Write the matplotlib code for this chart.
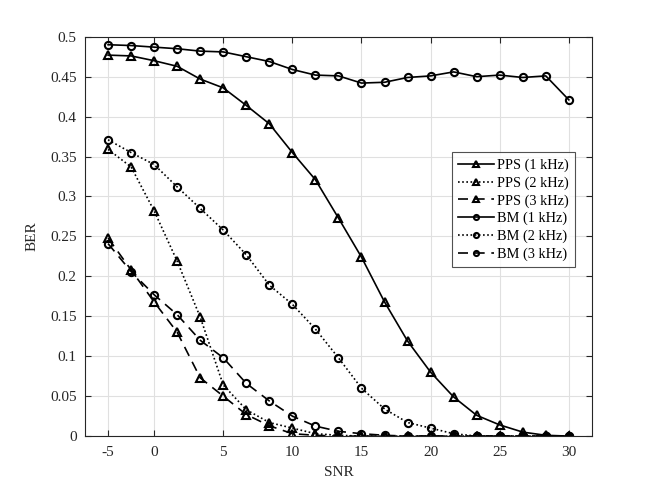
import numpy as np
import matplotlib
matplotlib.use("Agg")
import matplotlib.pyplot as plt

plt.rcParams['font.family'] = ['Liberation Serif', 'DejaVu Serif']

# SNR sample positions (21 points); tick labels as in the reference
snr_pos = np.arange(21) * 5 / 3 - 10 / 3
tick_pos = [-10 / 3, 0, 5, 10, 15, 20, 25, 30]
tick_labels = ['-5', '0', '5', '10', '15', '20', '25', '30']
ytick_vals = [0, 0.05, 0.1, 0.15, 0.2, 0.25, 0.3, 0.35, 0.4, 0.45, 0.5]
ytick_labels = ['0', '0.05', '0.1', '0.15', '0.2', '0.25', '0.3', '0.35', '0.4', '0.45', '0.5']

pps_1k = [0.477, 0.476, 0.470, 0.463, 0.447, 0.436, 0.414, 0.391, 0.355, 0.321, 0.273,
          0.224, 0.168, 0.119, 0.080, 0.049, 0.026, 0.014, 0.005, 0.001, 0.0]
pps_2k = [0.359, 0.337, 0.282, 0.219, 0.149, 0.064, 0.033, 0.017, 0.010, 0.003, 0.001,
          0.0, 0.0, 0.0, 0.0, 0.0, 0.0, 0.0, 0.0, 0.0, 0.0]
pps_3k = [0.248, 0.208, 0.168, 0.130, 0.073, 0.050, 0.027, 0.013, 0.003, 0.001, 0.0,
          0.0, 0.0, 0.0, 0.0, 0.0, 0.0, 0.0, 0.0, 0.0, 0.0]
bm_1k = [0.490, 0.489, 0.487, 0.485, 0.482, 0.481, 0.475, 0.469, 0.459, 0.452, 0.451,
         0.442, 0.443, 0.449, 0.451, 0.456, 0.450, 0.452, 0.449, 0.451, 0.421]
bm_2k = [0.371, 0.355, 0.340, 0.312, 0.285, 0.258, 0.227, 0.189, 0.165, 0.134, 0.098,
         0.060, 0.034, 0.017, 0.010, 0.003, 0.0, 0.0, 0.0, 0.0, 0.0]
bm_3k = [0.241, 0.206, 0.177, 0.152, 0.120, 0.098, 0.066, 0.044, 0.025, 0.0125, 0.006,
         0.003, 0.001, 0.0, 0.0, 0.0, 0.0, 0.0, 0.0, 0.0, 0.0]

series = [
    ('PPS (1 kHz)', pps_1k, '-', '^'),
    ('PPS (2 kHz)', pps_2k, ':', '^'),
    ('PPS (3 kHz)', pps_3k, '--', '^'),
    ('BM (1 kHz)', bm_1k, '-', 'o'),
    ('BM (2 kHz)', bm_2k, ':', 'o'),
    ('BM (3 kHz)', bm_3k, '--', 'o'),
]

fig = plt.figure(figsize=(6.54, 4.90), dpi=100)
ax = fig.add_axes([0.13, 0.11, 0.775, 0.815])

for label, vals, ls, mk in series:
    kw = {}
    if ls == '--':
        kw['dashes'] = (6, 4)
    elif ls == ':':
        kw['dashes'] = (1, 1.5)
    ax.plot(snr_pos, vals, linestyle=ls, color='black', linewidth=1.2,
            marker=mk, markersize=5.2, markerfacecolor='none',
            markeredgecolor='black', markeredgewidth=1.5, label=label, **kw)

ax.set_xlim(-5, 30 + 5 / 3)
ax.set_ylim(0, 0.5)
ax.set_xticks(tick_pos)
ax.set_xticklabels(tick_labels)
ax.set_yticks(ytick_vals)
ax.set_yticklabels(ytick_labels)
ax.grid(True, color='#e0e0e0', linewidth=0.8)
ax.set_axisbelow(True)
ax.tick_params(direction='in', top=True, right=True, labelsize=11,
               colors='#262626', length=4, width=0.8)
ax.tick_params(axis='x', pad=7)
ax.tick_params(axis='y', pad=6)
for s in ax.spines.values():
    s.set_color('#262626')
    s.set_linewidth(0.8)
ax.set_xlabel('SNR', fontsize=11, color='#262626', labelpad=5)
ax.set_ylabel('BER', fontsize=11, color='#262626', labelpad=8)

leg = ax.legend(loc='upper left', bbox_to_anchor=(0.724, 0.711), fontsize=10.3,
                frameon=True, fancybox=False, edgecolor='#262626',
                handlelength=2.5, handletextpad=0.2, borderpad=0.45,
                labelspacing=0.3, borderaxespad=0, markerscale=0.7)
leg.get_frame().set_linewidth(0.8)

fig.savefig('out.png', dpi=100, facecolor='white')
